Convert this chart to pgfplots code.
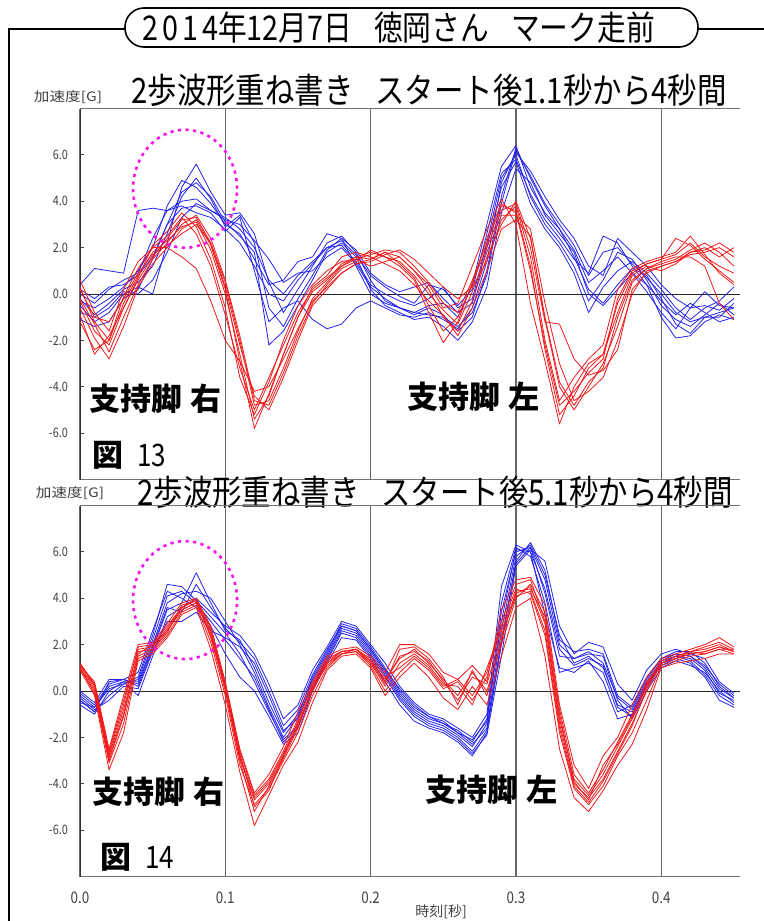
\documentclass[border=0pt]{standalone}
\usepackage{fontspec}
\usepackage{pgfplots}
\usepackage{pgfplotstable}
\pgfplotsset{compat=1.18}
\setmainfont{Noto Sans CJK JP}
\newfontfamily\condfont[FakeStretch=0.84]{Noto Sans CJK JP}
\newfontfamily\headfont[FakeStretch=0.845]{Noto Sans CJK JP}
\newfontfamily\widefont[FakeStretch=1.2]{Noto Sans CJK JP}
\definecolor{trblue}{RGB}{35,35,235}
\definecolor{trred}{RGB}{240,25,25}
\definecolor{ringpink}{RGB}{245,20,235}

% Acceleration [G] of two overlaid steps, from 1.1 s after the start
\pgfplotstableread{
t    b1   b2   b3   b4   b5   b6   r1   r2   r3   r4   r5   r6   b7   b8   r7   r8
0.00 -0.5 0.4  -1.1 0.2  -0.3 -0.8 0.6  -0.3 -1.2 0.2  -0.6 -0.9 0.0  -0.2 -0.2 0.3
0.01 -1.2 1.1  -1.4 -0.2 -0.6 -1.0 -0.8 -1.6 -2.4 -1.0 -1.9 -2.6 -0.4 -0.9 -1.3 -1.2
0.02 -0.8 1.0  -1.2 0.3  -0.2 -0.6 -1.6 -2.2 -2.0 -1.2 -2.8 -1.8 0.2  -0.4 -2.5 -2.0
0.03 0.0  0.9  -0.2 0.4  0.3  0.1  0.2  -0.6 -0.4 -0.2 -1.4 -0.6 0.6  0.2  -1.0 -0.1
0.04 0.3  3.6  0.2  0.8  1.0  0.0  1.4  0.6  0.8  0.9  0.3  0.7  0.9  0.5  0.4  1.1
0.05 0.0  3.7  1.5  1.6  2.0  0.6  2.0  1.6  1.8  1.7  1.3  2.1  2.4  1.2  1.5  2.0
0.06 2.2  3.6  3.0  3.0  3.8  1.8  2.0  2.4  2.3  2.1  2.0  2.7  3.6  2.6  2.2  2.5
0.07 4.6  3.8  3.7  4.4  4.9  3.3  1.6  3.2  2.9  2.6  2.8  3.5  4.0  4.2  3.0  3.3
0.08 5.6  3.5  3.8  4.8  4.6  3.9  1.1  3.3  3.1  3.0  3.2  2.9  4.1  5.0  3.4  2.6
0.09 4.4  3.3  3.5  4.2  3.9  3.6  -0.3 2.2  1.9  2.2  2.1  1.5  3.6  4.1  2.4  1.2
0.10 3.4  2.8  2.7  3.1  3.0  3.2  -2.0 0.5  0.0  0.3  0.2  -0.6 3.3  2.9  0.6  -0.9
0.11 3.5  2.2  3.3  2.5  2.6  3.0  -2.9 -2.0 -2.6 -2.2 -2.9 -3.6 2.8  3.4  -1.8 -3.2
0.12 2.6  1.2  1.0  1.8  1.5  2.3  -4.2 -4.8 -5.4 -4.4 -5.8 -5.2 2.0  2.2  -4.6 -5.0
0.13 0.5  0.0  -1.2 -2.2 0.4  1.5  -4.0 -4.6 -4.4 -5.0 -4.3 -3.8 0.6  -0.6 -4.8 -3.6
0.14 -0.8 -0.3 -0.6 -1.6 0.6  0.5  -2.8 -3.2 -2.6 -3.6 -2.6 -2.0 0.0  -1.4 -3.4 -2.2
0.15 0.2  0.6  -0.3 -0.5 1.4  0.9  -1.5 -1.6 -1.0 -2.0 -1.0 -0.5 0.8  -0.2 -1.8 -0.8
0.16 1.2  1.3  -1.1 0.6  1.6  1.0  -0.3 -0.2 0.1  -0.5 0.3  0.4  1.4  0.8  -0.4 0.2
0.17 2.2  2.0  -1.5 1.8  2.6  1.6  0.3  0.5  0.6  0.2  0.8  1.0  2.0  1.9  0.4  0.7
0.18 2.5  2.3  -1.3 2.2  2.4  2.0  0.9  1.2  1.3  0.9  1.6  1.4  2.1  2.4  1.1  1.2
0.19 1.8  1.7  -0.6 1.6  1.9  1.3  1.3  1.5  1.6  1.3  1.8  1.5  1.4  1.2  1.4  1.6
0.20 0.6  0.8  -0.3 0.2  0.9  0.3  1.5  1.7  1.8  1.4  1.6  1.2  0.4  0.0  1.9  1.5
0.21 -0.3 0.3  -0.6 -0.5 0.4  -0.2 1.8  1.9  1.6  1.7  1.3  1.4  0.0  -0.4 1.6  1.8
0.22 -0.6 -0.1 -0.9 -0.8 0.1  -0.6 1.6  1.8  1.2  1.9  1.0  1.6  -0.3 -0.6 1.4  1.3
0.23 -0.9 -0.4 -1.0 -1.1 0.3  -0.8 1.0  1.2  0.6  1.5  0.4  1.0  -0.5 -0.8 0.8  0.7
0.24 -0.6 0.4  -0.8 -1.0 0.5  -0.5 0.2  0.5  -0.8 0.9  -0.3 0.4  -0.2 -0.9 0.0  -0.5
0.25 -0.9 0.2  -1.1 -1.4 -0.2 -0.4 -1.0 -0.4 -2.1 0.3  -0.9 -0.6 0.3  -1.0 -0.7 -1.6
0.26 -1.6 -0.5 -1.5 -2.0 -0.8 -1.0 -1.6 -0.8 -1.2 -0.2 -1.8 -0.4 -0.6 -1.4 -1.3 -1.0
0.27 -1.0 0.2  -0.6 -1.2 -0.4 0.4  -0.3 0.6  0.5  0.3  -0.6 1.2  -0.2 -0.8 0.1  0.4
0.28 1.0  2.6  1.4  0.3  2.0  3.0  1.6  2.2  2.0  1.4  1.0  2.8  2.2  0.8  1.8  2.4
0.29 4.2  5.2  4.8  3.5  4.6  5.5  3.0  3.8  3.6  3.2  2.8  4.1  5.0  3.9  3.4  3.9
0.30 6.3  5.8  6.1  5.4  5.7  6.4  4.0  3.6  3.9  3.8  3.2  3.0  6.0  6.2  3.4  3.5
0.31 5.0  4.3  5.3  4.8  3.9  4.6  2.4  1.2  2.0  1.6  2.5  -0.4 4.2  5.1  2.8  1.0
0.32 3.8  3.2  4.2  3.4  2.8  3.5  -1.0 -2.4 -1.2 -2.0 -1.1 -2.9 3.0  3.9  -0.4 -2.2
0.33 2.8  2.4  3.2  2.6  2.0  2.8  -3.8 -5.2 -1.3 -4.6 -4.0 -5.6 2.2  3.0  -3.0 -4.8
0.34 1.6  1.5  2.4  1.8  0.9  1.9  -4.8 -4.4 -2.8 -3.6 -5.0 -4.0 1.2  2.1  -4.6 -4.2
0.35 0.2  0.9  1.2  0.0  -0.8 0.5  -3.8 -3.2 -3.5 -2.8 -4.0 -3.0 -0.3 0.8  -4.2 -3.4
0.36 -0.4 2.5  0.8  -0.5 0.3  1.0  -3.2 -2.6 -3.3 -2.2 -3.0 -2.6 0.6  1.8  -3.6 -2.8
0.37 0.4  2.2  2.4  0.2  1.0  1.6  -1.0 -0.4 -2.4 0.2  -1.4 -0.8 1.8  2.0  -2.0 -0.2
0.38 1.1  1.2  1.8  0.9  1.4  0.9  0.6  0.9  0.2  1.1  0.5  0.8  1.5  1.3  0.0  1.0
0.39 0.8  0.4  1.2  0.4  0.9  0.1  1.1  1.3  0.9  1.4  1.1  1.2  0.6  0.7  1.0  1.3
0.40 -0.2 -0.3 0.4  -1.0 0.2  -0.8 1.3  1.5  1.2  1.6  1.4  1.0  -0.5 0.0  1.2  1.5
0.41 -1.3 -0.9 -0.2 -1.9 -0.6 -1.5 1.5  2.4  1.4  1.8  1.6  1.3  -1.1 -0.8 1.4  1.7
0.42 -1.7 -0.4 -0.6 -1.8 -1.1 -0.6 1.9  2.1  1.7  2.5  1.6  1.8  -1.4 -1.2 1.8  2.2
0.43 -1.0 -0.8 -0.5 -1.2 -0.6 0.1  2.2  1.5  1.8  1.7  1.2  2.0  -0.9 -1.0 1.9  1.6
0.44 -0.8 -1.2 -0.7 -0.9 -0.3 -0.5 1.8  1.0  2.0  0.9  -0.4 1.6  -0.4 -1.0 2.2  1.2
0.45 -0.6 -1.0 -0.2 -1.1 0.3  -0.6 1.2  0.5  1.6  0.4  -1.1 2.0  -0.9 -0.4 1.8  0.9
}\stepsEarly

% Acceleration [G] of two overlaid steps, from 5.1 s after the start
\pgfplotstableread{
t    b1   b2   b3   b4   b5   b6   r1   r2   r3   r4   r5   r6   b7   b8   r7   r8
0.00 -0.1 -0.4 -0.6 0.0  -0.3 -0.5 1.2  1.0  1.1  0.9  1.2  1.0  -0.2 -0.4 1.1  0.9
0.01 -0.6 -0.9 -1.0 -0.5 -0.8 -0.7 0.3  -0.1 0.4  -0.2 0.2  0.0  -0.7 -0.9 0.1  0.3
0.02 0.3  -0.2 0.0  0.5  -0.4 0.2  -2.6 -3.1 -2.5 -3.4 -2.8 -3.0 0.1  0.4  -2.9 -2.7
0.03 0.5  0.3  0.4  0.5  0.2  0.4  -0.4 -1.4 -0.2 -1.8 -0.8 -1.1 0.3  0.5  -1.0 -0.6
0.04 0.2  0.6  -0.2 0.8  0.1  0.4  1.8  1.4  2.0  1.3  1.6  1.5  0.5  0.3  1.7  1.9
0.05 1.8  2.4  1.5  2.6  1.7  2.0  1.9  1.7  2.1  1.6  2.0  1.8  2.2  1.9  1.8  2.0
0.06 3.5  4.6  3.2  4.3  3.0  3.8  2.7  2.4  2.9  2.3  2.6  2.5  4.1  3.6  2.6  2.8
0.07 3.8  4.5  3.6  4.0  3.0  4.2  3.6  3.4  3.8  3.3  3.5  3.7  4.3  3.4  3.5  3.6
0.08 5.1  3.9  4.0  3.6  3.4  4.3  3.9  3.7  4.0  3.6  3.8  3.9  3.8  4.6  3.8  4.0
0.09 3.8  3.2  3.4  2.8  2.6  4.0  2.6  2.1  2.8  1.8  2.4  2.3  3.0  3.6  2.5  2.7
0.10 2.6  2.5  2.8  1.6  2.3  3.0  0.3  -0.2 0.4  -0.6 0.1  0.0  2.2  2.7  0.2  0.2
0.11 2.2  1.6  2.4  0.6  1.9  2.0  -2.6 -3.2 -2.5 -3.5 -2.9 -3.0 1.4  2.1  -2.8 -2.7
0.12 1.0  0.4  1.6  0.0  1.2  0.8  -4.5 -4.9 -4.4 -5.8 -4.7 -5.2 0.6  1.4  -4.6 -5.0
0.13 -0.5 -0.9 0.3  -1.1 -0.2 -0.7 -3.8 -4.2 -3.6 -4.5 -4.0 -4.1 -0.8 0.0  -3.9 -4.3
0.14 -1.8 -2.1 -1.2 -2.3 -1.7 -2.0 -2.6 -3.0 -2.4 -3.2 -2.8 -2.9 -2.2 -1.5 -2.7 -2.8
0.15 -1.0 -1.5 -0.6 -1.8 -1.2 -1.1 -1.2 -1.8 -0.9 -2.2 -1.5 -1.6 -1.6 -0.8 -1.4 -1.3
0.16 0.5  0.1  0.9  0.0  0.4  0.6  0.2  -0.2 0.4  -0.5 0.0  0.1  0.2  0.7  0.1  0.3
0.17 1.6  1.3  1.9  1.2  1.5  1.7  1.3  1.0  1.5  0.9  1.2  1.2  1.4  1.8  1.1  1.4
0.18 2.8  2.5  3.0  2.3  2.7  2.9  1.7  1.6  1.8  1.5  1.7  1.6  2.6  2.8  1.6  1.7
0.19 2.6  2.3  2.8  2.2  2.5  2.7  1.8  1.7  1.9  1.6  1.8  1.7  2.4  2.6  1.8  1.8
0.20 1.8  1.5  2.0  1.4  1.7  1.9  1.3  1.1  1.5  1.0  1.2  1.2  1.6  1.8  1.4  1.3
0.21 0.9  0.6  1.2  0.4  0.8  1.0  0.5  0.0  0.8  -0.2 0.2  0.4  0.7  0.9  0.6  0.3
0.22 -0.1 -0.4 0.2  -0.6 -0.2 0.0  1.4  0.8  2.0  0.6  1.2  1.5  -0.3 0.1  1.0  1.8
0.23 -0.8 -1.1 -0.5 -1.3 -0.9 -0.7 1.8  1.4  2.0  1.2  1.6  1.7  -1.0 -0.6 1.5  1.9
0.24 -1.2 -1.5 -1.0 -1.6 -1.3 -1.1 1.2  0.9  1.6  0.6  1.1  1.3  -1.4 -1.1 1.0  1.4
0.25 -1.4 -1.7 -1.2 -1.8 -1.5 -1.4 0.5  0.1  0.8  -0.3 0.3  0.4  -1.6 -1.3 0.2  0.6
0.26 -1.8 -2.1 -1.6 -2.2 -1.9 -1.7 -0.2 0.4  0.5  -0.8 0.2  -0.4 -2.0 -1.8 0.5  -0.6
0.27 -2.3 -2.7 -2.0 -2.8 -2.4 -2.2 0.8  -0.4 1.1  0.2  -0.6 0.6  -2.6 -2.1 -0.2 0.9
0.28 -1.6 -1.9 -1.0 -1.8 -1.4 -1.2 0.0  0.6  0.4  -0.6 1.0  0.3  -1.7 -1.3 0.8  -0.2
0.29 2.6  1.5  4.5  2.0  3.4  3.8  2.0  2.8  3.5  1.5  2.6  2.4  2.2  3.0  3.0  2.2
0.30 5.8  5.4  6.3  5.6  6.0  6.2  4.0  4.4  4.8  3.6  4.2  4.1  5.5  6.1  4.6  4.3
0.31 6.3  6.1  6.0  6.4  6.2  5.8  4.6  4.2  4.9  4.0  4.5  4.3  6.2  6.0  4.8  4.4
0.32 5.0  5.6  3.3  5.2  4.2  3.8  3.4  2.4  3.7  1.5  2.9  2.6  4.8  4.4  3.0  3.2
0.33 2.4  2.8  1.0  2.2  1.5  0.8  -0.8 -1.8 -0.6 -2.5 -1.4 -1.6 2.0  1.8  -1.2 -1.0
0.34 1.2  1.6  0.8  1.7  1.4  1.0  -3.6 -4.2 -3.2 -4.6 -4.0 -4.1 1.4  1.1  -3.8 -3.9
0.35 1.5  2.1  1.3  1.8  1.6  1.2  -4.4 -4.9 -4.2 -5.2 -4.6 -4.8 1.7  1.4  -4.5 -4.7
0.36 1.0  1.9  0.4  1.6  1.5  0.8  -3.4 -4.1 -2.8 -4.3 -3.8 -3.9 1.2  1.1  -3.6 -3.2
0.37 -0.6 0.3  -1.2 -0.2 -0.4 -0.9 -2.2 -2.8 -2.0 -3.2 -2.6 -2.7 -0.3 -0.7 -2.4 -2.3
0.38 -0.9 -0.4 -1.0 -0.7 -1.2 -0.6 -1.0 -1.8 -0.6 -2.3 -1.4 -1.5 -0.8 -1.1 -1.2 -1.1
0.39 0.3  0.9  0.2  0.5  0.0  0.6  0.3  -0.4 0.6  -0.8 0.0  0.1  0.4  0.2  0.2  0.4
0.40 1.2  1.6  1.1  1.4  1.0  1.4  1.3  1.1  1.4  1.0  1.2  1.2  1.3  1.2  1.3  1.2
0.41 1.5  1.8  1.4  1.7  1.3  1.6  1.5  1.3  1.6  1.2  1.4  1.4  1.6  1.5  1.5  1.4
0.42 1.4  1.6  1.2  1.7  1.1  1.5  1.7  1.5  1.8  1.3  1.6  1.6  1.5  1.3  1.7  1.7
0.43 0.9  1.4  0.6  1.2  0.8  1.1  1.8  1.6  2.0  1.4  1.7  1.7  1.0  0.7  1.9  1.6
0.44 -0.1 0.4  -0.4 0.2  0.0  0.3  2.0  1.8  2.3  1.6  1.9  1.9  0.1  -0.2 2.1  1.8
0.45 -0.4 -0.1 -0.7 -0.3 -0.5 -0.2 1.7  1.8  1.9  1.6  1.7  1.7  -0.3 -0.6 1.8  1.6
}\stepsLate

\pgfplotsset{
  waveaxis/.style={
    scale only axis, width=330pt, height=185.5pt,
    xmin=0, xmax=0.4542, ymin=-8, ymax=8,
    axis line style={draw=none},
    xtick={0,0.1,0.2,0.3,0.4},
    ytick={-6,-4,-2,0,2,4,6},
    yticklabels={-6.0,-4.0,-2.0,0.0,2.0,4.0,6.0},
    tick pos=left, tick align=inside,
    major tick length=2pt,
    xtick style={draw=none},
    ytick style={draw=black!75, line width=0.5pt},
    xmajorgrids, grid style={draw=black!60, line width=0.6pt},
    yticklabel style={font=\condfont\fontsize{6.5}{6.5}\selectfont, text=black!75, xshift=-2.5pt},
    xticklabel style={font=\condfont\fontsize{8}{8}\selectfont, text=black!75, yshift=-4pt},
  },
  bluetrace/.style={trblue, line width=0.4pt, line join=round},
  redtrace/.style={trred, line width=0.4pt, line join=round},
}

\newcommand{\frameandtraces}[1]{%
  \draw[black!55, line width=0.7pt] (rel axis cs:0,1) -- (rel axis cs:1,1);
  \draw[black!55, line width=0.6pt] (rel axis cs:0,0) -- (rel axis cs:1,0);
  \draw[black!80, line width=0.6pt] (rel axis cs:0,0) -- (rel axis cs:0,1);
  \draw[black!85, line width=0.5pt] (axis cs:0,0) -- (axis cs:0.4542,0);
  \pgfplotsinvokeforeach{b1,b2,b3,b4,b5,b6,b7,b8}{\addplot[bluetrace] table[x=t,y=##1]{#1};}
  \pgfplotsinvokeforeach{r1,r2,r3,r4,r5,r6,r7,r8}{\addplot[redtrace] table[x=t,y=##1]{#1};}
}

\begin{document}
\begin{tikzpicture}
\useasboundingbox (0,0) rectangle (382pt,-460.5pt);

% outer frame and heading box
\draw[line width=1pt] (4.5pt,-460.5pt) -- (4.5pt,-14.5pt) -- (62.5pt,-14.5pt);
\draw[line width=1pt] (349pt,-14.5pt) -- (382pt,-14.5pt);
\draw[line width=0.8pt, fill=white, rounded corners=9.5pt] (62.5pt,-4pt) rectangle (349pt,-23.5pt);
\node at (199.3pt,-13.8pt) {\headfont\fontsize{17}{17}\selectfont 2\kern2pt 0\kern2pt 1\kern2pt 4年12月7日\hspace{11pt}徳岡さん\hspace{11pt}マーク走前};

% upper panel
\node at (214.5pt,-45.2pt) {\condfont\fontsize{17.5}{17.5}\selectfont 2歩波形重ね書き\hspace{11pt}スタート後1.1秒から4秒間};
\node[text=black!75] at (34pt,-48.5pt) {\widefont\fontsize{6.5}{6.5}\selectfont 加速度[G]};
\begin{axis}[waveaxis, at={(40pt,-54.25pt)}, anchor=north west, xticklabels={}]
  \frameandtraces{\stepsEarly}
  \draw[ringpink, line width=1.3pt, dash pattern=on 1.6pt off 2.2pt]
    (axis cs:0.0723,4.54) ellipse [x radius=26pt, y radius=29.5pt];
\end{axis}
\node[anchor=west, inner sep=0pt, font=\bfseries\fontsize{15.5}{15.5}\selectfont] at (44.5pt,-199.5pt) {支持脚\hspace{4pt}右};
\node[anchor=west, inner sep=0pt, font=\bfseries\fontsize{15.5}{15.5}\selectfont] at (203.5pt,-198.5pt) {支持脚\hspace{4pt}左};
\node[anchor=west, inner sep=0pt, font=\fontsize{15.5}{15.5}\selectfont] at (46pt,-227.5pt) {\textbf{図}\hspace{7pt}{\condfont 13}};

% lower panel
\node at (217.5pt,-246pt) {\condfont\fontsize{17.5}{17.5}\selectfont 2歩波形重ね書き\hspace{11pt}スタート後5.1秒から4秒間};
\node[text=black!75] at (35pt,-246.5pt) {\widefont\fontsize{6.5}{6.5}\selectfont 加速度[G]};
\begin{axis}[waveaxis, at={(40pt,-252.75pt)}, anchor=north west,
  xticklabels={0.0,0.1,0.2,0.3,0.4}]
  \frameandtraces{\stepsLate}
  \draw[ringpink, line width=1.3pt, dash pattern=on 1.6pt off 2.2pt]
    (axis cs:0.0723,3.92) ellipse [x radius=26pt, y radius=29.5pt];
\end{axis}
\node[anchor=west, inner sep=0pt, font=\bfseries\fontsize{15.5}{15.5}\selectfont] at (46pt,-395.75pt) {支持脚\hspace{4pt}右};
\node[anchor=west, inner sep=0pt, font=\bfseries\fontsize{15.5}{15.5}\selectfont] at (212.5pt,-395pt) {支持脚\hspace{4pt}左};
\node[anchor=west, inner sep=0pt, font=\fontsize{15.5}{15.5}\selectfont] at (50pt,-428.5pt) {\textbf{図}\hspace{7pt}{\condfont 14}};
\node[text=black!75] at (220.5pt,-456pt) {\fontsize{7}{7}\selectfont 時刻[秒]};
\end{tikzpicture}
\end{document}
